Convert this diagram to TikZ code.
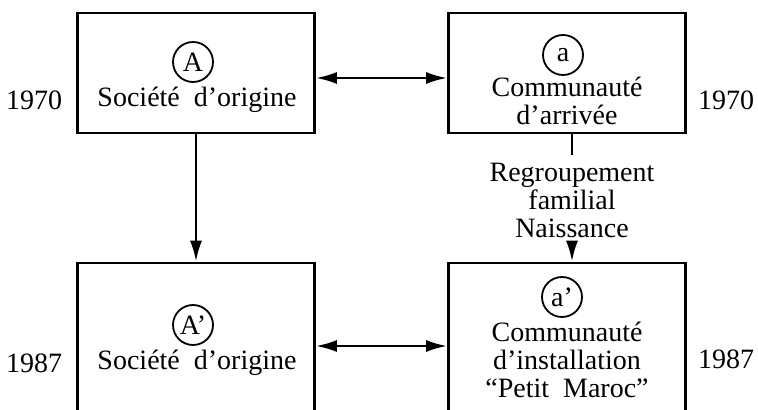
\documentclass[tikz,border=0pt]{standalone}
\usepackage{fontspec}
\setmainfont{Liberation Serif}
\usetikzlibrary{arrows.meta}
\newcommand{\esp}{\hspace{0.5em}}
\begin{document}
\begin{tikzpicture}[x=0.5pt,y=-0.5pt,line width=1.3pt,
  >={Latex[length=10.5pt,width=6pt]},
  every node/.style={font=\fontsize{14}{14}\selectfont},
  boite/.style={draw,rectangle,minimum width=118.5pt,inner sep=0pt},
  rond/.style={draw,circle,minimum size=20pt,inner sep=0pt,line width=0.9pt},
  texte/.style={align=center,inner sep=1pt}]
\useasboundingbox (0,0) rectangle (758,410);
\clip (0,0) rectangle (758,410);
\node[boite,minimum height=60pt] at (196,73) (orig70) {};
\node[boite,minimum height=60pt] at (567,73) (comm70) {};
\node[boite,minimum height=83pt] at (196,346) (orig87) {};
\node[boite,minimum height=83pt] at (567,346) (comm87) {};
\node[rond] at (193,62) (cA) {A};
\node[rond] at (563,55) (ca) {a};
\node[rond] at (193,325) (cAp) {A'};
\node[rond] at (562,297) (cap) {a'};
\node[texte] at (197,100) (t1) {Société\esp d'origine};
\node[texte] at (567,101) (t2) {Communauté\\d'arrivée};
\node[texte] at (197,363) (t3) {Société\esp d'origine};
\node[texte] at (567,360) (t4) {Communauté\\d'installation\\``Petit\esp Maroc''};
\node at (34,100) (y1) {1970};
\node at (726,100) (y2) {1970};
\node at (34,363) (y3) {1987};
\node at (726,359) (y4) {1987};
\node[texte,inner sep=3pt] at (572,200) (flux) {Regroupement\\familial\\Naissance};
\draw[<->] ([yshift=-2.5pt]orig70.east) -- ([yshift=-2.5pt]comm70.west);
\draw[<->] (orig87.east) -- (comm87.west);
\draw[->] (orig70) -- (orig87);
\draw (flux |- comm70.south) -- (flux.north);
\draw[->] (flux.south) -- (flux |- comm87.north);
\end{tikzpicture}
\end{document}
